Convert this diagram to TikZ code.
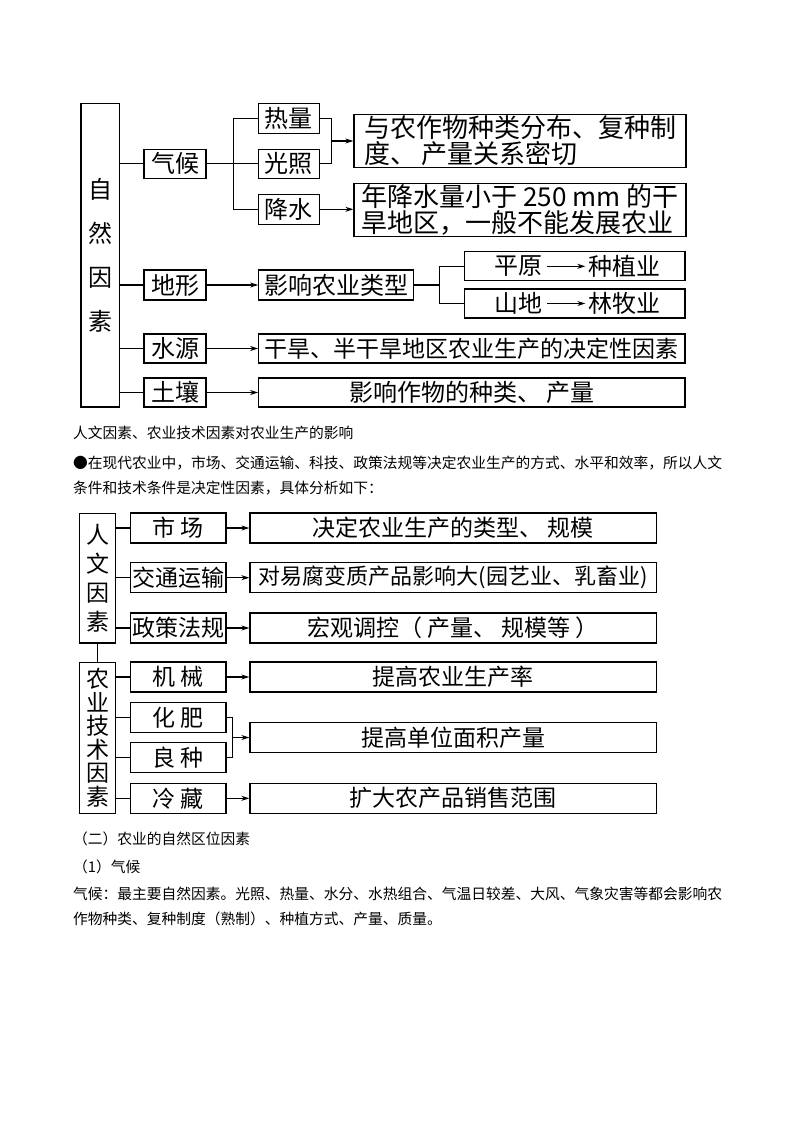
\documentclass[tikz,border=0pt]{standalone}
\usepackage{fontspec}
\setmainfont{Noto Sans CJK SC}
\usetikzlibrary{arrows.meta}

\tikzset{
  kbox/.style={draw, line width=1.3pt, inner sep=0pt, minimum height=29pt,
    font=\fontsize{24pt}{26pt}\selectfont},
  sbox/.style={kbox, minimum height=30pt, font=\fontsize{23pt}{25pt}\selectfont},
  ln/.style={line width=1.1pt},
  arr/.style={ln, -{Stealth[length=8pt,width=5pt]}},
  txt/.style={anchor=west, inner sep=0pt, font=\fontsize{14.75pt}{16pt}\selectfont},
  bare/.style={inner sep=0pt, font=\fontsize{24pt}{26pt}\selectfont}
}

\begin{document}
\begin{tikzpicture}[x=1pt, y=-1pt]
  \fill[white] (0,0) rectangle (800,1132);
  \useasboundingbox (0,0) rectangle (800,1132);

  % natural factors
  \node[kbox, minimum width=38.5pt, minimum height=303.5pt, align=center,
    font=\fontsize{24pt}{44pt}\selectfont] (zr) at (100.25,255.25) {自\\然\\因\\素};
  \node[kbox, minimum width=62pt] (qh) at (175,163.8) {气候};
  \node[kbox, minimum width=61pt, minimum height=30pt] (rl) at (288.8,118.3) {热量};
  \node[kbox, minimum width=61pt] (gz) at (288.8,163.8) {光照};
  \node[kbox, minimum width=61pt, minimum height=30pt] (js) at (288.8,209.3) {降水};
  \node[kbox, minimum width=332pt, minimum height=53.4pt, align=left,
    font=\fontsize{26pt}{26pt}\selectfont] (ba) at (520,141) {与农作物种类分布、复种制\\度、 产量关系密切};
  \node[kbox, minimum width=332pt, minimum height=53.4pt, align=left,
    font=\fontsize{26pt}{26pt}\selectfont] (bb) at (520,210) {年降水量小于 250 mm 的干\\旱地区，一般不能发展农业};

  \node[kbox, minimum width=62pt, minimum height=30pt] (dx) at (175,285) {地形};
  \node[kbox, minimum width=155pt, minimum height=30pt] (yx) at (336.3,285) {影响农业类型};
  \node[kbox, minimum width=220.3pt] (pyb) at (574.9,266.3) {};
  \node[kbox, minimum width=220.3pt] (sdb) at (574.9,303.5) {};
  \node[bare] (py) at (518,266.3) {平原};
  \node[bare] (zzy) at (624.5,266.3) {种植业};
  \node[bare] (sd) at (518,303.5) {山地};
  \node[bare] (lmy) at (624.5,303.5) {林牧业};

  \node[kbox, minimum width=62pt] (sy) at (175,348.5) {水源};
  \node[kbox, minimum width=426.2pt, font=\fontsize{23pt}{25pt}\selectfont] (gh) at (471.9,348.5)
    {干旱、半干旱地区农业生产的决定性因素};
  \node[kbox, minimum width=62pt] (tr) at (175,392.5) {土壤};
  \node[kbox, minimum width=426.2pt] (yz) at (471.9,392.5) {影响作物的种类、 产量};

  \foreach \n in {qh,dx,sy,tr}
    \draw[ln] (zr.east |- \n.west) -- (\n.west);
  \coordinate (qbr) at (233.3,163.8);
  \draw[ln] (qh.east) -- (qbr);
  \draw[ln] (rl.west) -| (qbr) |- (js.west);
  \draw[ln] (qbr) -- (gz.west);
  \coordinate (rbr) at (331.7,141);
  \draw[ln] (rl.east) -| (rbr) |- (gz.east);
  \draw[arr] (rbr) -- (ba.west);
  \draw[arr] (js.east) -- (bb.west |- js.east);
  \draw[arr] (dx.east) -- (yx.west);
  \coordinate (ybr) at (439.6,285);
  \draw[ln] (yx.east) -- (ybr);
  \draw[ln] (pyb.west) -| (ybr) |- (sdb.west);
  \draw[arr, line width=1pt, shorten <=5pt, shorten >=3pt] (py) -- (zzy);
  \draw[arr, line width=1pt, shorten <=5pt, shorten >=3pt] (sd) -- (lmy);
  \draw[arr] (sy.east) -- (gh.west);
  \draw[arr] (tr.east) -- (yz.west);

  % text lines
  \node[txt] (t1) at (73,433.3) {人文因素、农业技术因素对农业生产的影响};
  \node[txt] (t2) at (73,462.7) {●在现代农业中，市场、交通运输、科技、政策法规等决定农业生产的方式、水平和效率，所以人文};
  \node[txt] (t3) at (73,488.3) {条件和技术条件是决定性因素，具体分析如下：};

  % human and technical factors
  \node[sbox, minimum width=36.4pt, minimum height=129.7pt, align=center,
    font=\fontsize{23pt}{29pt}\selectfont] (rw) at (97.5,578.2) {人\\文\\因\\素};
  \node[sbox, minimum width=36.4pt, minimum height=151pt, align=center,
    font=\fontsize{23pt}{23.5pt}\selectfont] (ny) at (97.5,737.8) {农\\业\\技\\术\\因\\素};
  \draw[ln] (rw.south) -- (ny.north);

  \node[sbox, minimum width=95.3pt] (sc) at (178.4,528) {市 场};
  \node[sbox, minimum width=95.3pt] (jt) at (178.4,577.7) {交通运输};
  \node[sbox, minimum width=95.3pt] (zc) at (178.4,628) {政策法规};
  \node[sbox, minimum width=95.3pt] (jx) at (178.4,677) {机 械};
  \node[sbox, minimum width=95.3pt] (hf) at (178.4,717.3) {化 肥};
  \node[sbox, minimum width=95.3pt] (lz) at (178.4,757.7) {良 种};
  \node[sbox, minimum width=95.3pt] (lc) at (178.4,798.3) {冷 藏};

  \node[sbox, minimum width=406.5pt] (jd) at (453.25,528) {决定农业生产的类型、 规模};
  \node[sbox, minimum width=406.5pt, font=\fontsize{22pt}{24pt}\selectfont] (dy) at (453.25,577.7)
    {对易腐变质产品影响大(园艺业、乳畜业)};
  \node[sbox, minimum width=406.5pt] (hg) at (453.25,628) {宏观调控（ 产量、 规模等 ）};
  \node[sbox, minimum width=406.5pt] (tg) at (453.25,677) {提高农业生产率};
  \node[sbox, minimum width=406.5pt] (tdw) at (453.25,737.5) {提高单位面积产量};
  \node[sbox, minimum width=406.5pt] (kd) at (453.25,798.3) {扩大农产品销售范围};

  \foreach \n in {sc,jt,zc}
    \draw[ln] (rw.east |- \n.west) -- (\n.west);
  \foreach \n in {jx,hf,lz,lc}
    \draw[ln] (ny.east |- \n.west) -- (\n.west);
  \draw[arr] (sc.east) -- (jd.west);
  \draw[arr] (jt.east) -- (dy.west);
  \draw[arr] (zc.east) -- (hg.west);
  \draw[arr] (jx.east) -- (tg.west);
  \coordinate (hbr) at (232.3,737.5);
  \draw[ln] (hf.east) -| (hbr) |- (lz.east);
  \draw[arr] (hbr) -- (tdw.west);
  \draw[arr] (lc.east) -- (kd.west);

  % text lines
  \node[txt] (t4) at (73,839) {（二）农业的自然区位因素};
  \node[txt] (t5) at (73,866.5) {（1）气候};
  \node[txt] (t6) at (73,894.3) {气候：最主要自然因素。光照、热量、水分、水热组合、气温日较差、大风、气象灾害等都会影响农};
  \node[txt] (t7) at (73,919) {作物种类、复种制度（熟制）、种植方式、产量、质量。};
\end{tikzpicture}
\end{document}
